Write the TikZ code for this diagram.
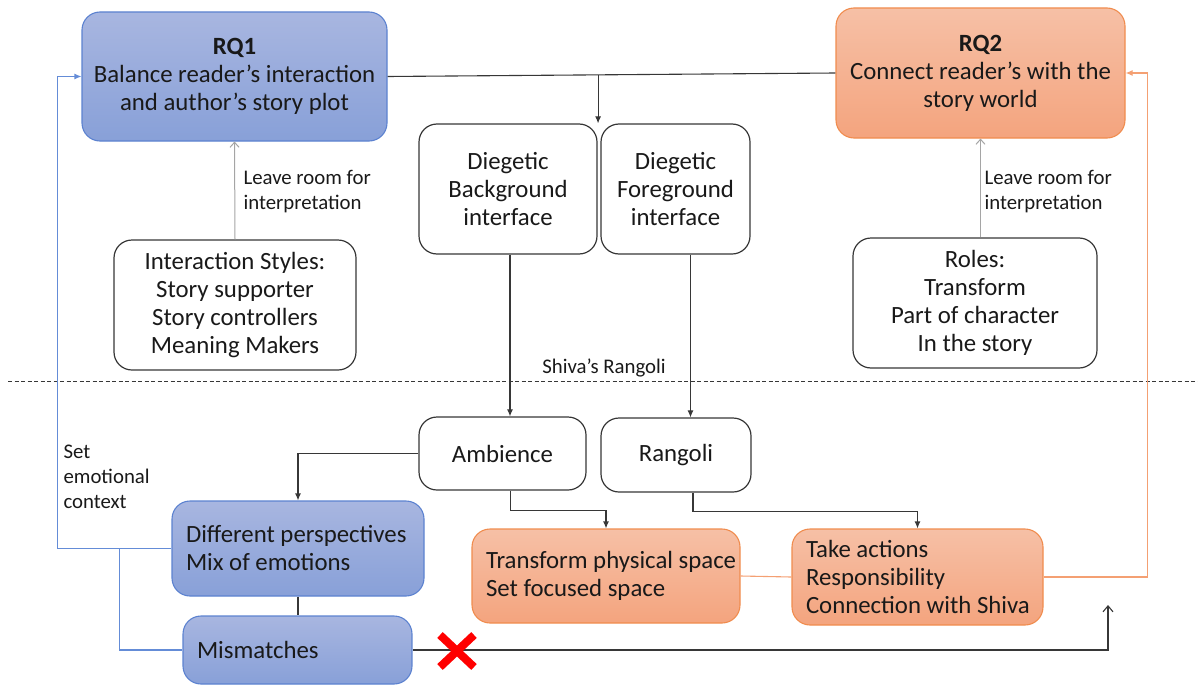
\documentclass[tikz,border=0pt]{standalone}
\usepackage{fontspec}
\setmainfont{Carlito}
\usetikzlibrary{arrows.meta,calc}

\definecolor{bluetop}{RGB}{168,182,224}
\definecolor{bluebot}{RGB}{136,160,216}
\definecolor{blueedge}{RGB}{92,130,208}
\definecolor{bluewire}{RGB}{100,140,215}
\definecolor{orangetop}{RGB}{246,192,166}
\definecolor{orangebot}{RGB}{244,164,126}
\definecolor{orangeedge}{RGB}{240,140,78}
\definecolor{orangewire}{RGB}{244,160,115}
\definecolor{wire}{RGB}{55,55,55}
\definecolor{greywire}{RGB}{165,165,165}
\definecolor{ink}{RGB}{25,25,25}

\begin{document}
\begin{tikzpicture}[x=1pt,y=-1pt,
  txt/.style={font=\fontsize{24.8}{28}\selectfont, text=ink},
  small/.style={font=\fontsize{20.8}{25}\selectfont, text=ink},
  plainbox/.style={txt, draw=wire, line width=1.2pt, fill=white, rounded corners=18pt, align=center, inner sep=0pt},
  bluebox/.style={txt, draw=blueedge, line width=1.1pt, top color=bluetop, bottom color=bluebot, rounded corners=18pt, inner sep=0pt},
  orangebox/.style={txt, draw=orangeedge, line width=1.1pt, top color=orangetop, bottom color=orangebot, rounded corners=18pt, inner sep=0pt},
  leftbox/.style={align=flush left, inner ysep=0pt},
  line/.style={draw=wire, line width=1.1pt},
  arr/.style={line, -{Latex[length=7pt,width=6pt]}},
  garr/.style={draw=greywire, line width=1pt, -{Straight Barb[length=5pt,width=9pt]}},
  openarr/.style={line, -{Straight Barb[length=6pt,width=10pt]}},
  bline/.style={draw=bluewire, line width=1.1pt},
  barr/.style={bline, -{Latex[length=7pt,width=6pt]}},
  oline/.style={draw=orangewire, line width=1.1pt},
  oarr/.style={oline, -{Latex[length=7pt,width=6pt]}}
]
\useasboundingbox (0,0) rectangle (1198,685);

% research questions
\node[bluebox, align=center, minimum width=305pt, minimum height=129pt] (rq1) at (234.5,76.5)
  {\textbf{RQ1}\\Balance reader’s interaction\\and author’s story plot};
\node[orangebox, align=center, minimum width=289pt, minimum height=130pt] (rq2) at (980.5,73)
  {\textbf{RQ2}\\Connect reader’s with the\\story world};

% diegetic interfaces
\node[plainbox, minimum width=178pt, minimum height=130pt] (dbg) at (508,189)
  {Diegetic\\Background\\interface};
\node[plainbox, minimum width=149pt, minimum height=130pt] (dfg) at (675.5,189)
  {Diegetic\\Foreground\\interface};

% interaction styles and roles
\node[plainbox, minimum width=242pt, minimum height=130pt] (ist) at (235,305)
  {Interaction Styles:\\Story supporter\\Story controllers\\Meaning Makers};
\node[plainbox, minimum width=244pt, minimum height=130pt] (roles) at (975,303)
  {Roles:\\Transform\\Part of character\\In the story};

% divider
\draw[wire, line width=1pt, dash pattern=on 4pt off 2.5pt] (8,381) -- (1198,381);
\node[small] (shiva) at (604,368) {Shiva’s Rangoli};

% lower level
\node[plainbox, minimum width=167pt, minimum height=73pt] (amb) at (502.5,453.5) {Ambience};
\node[plainbox, minimum width=150pt, minimum height=74pt] (rang) at (676,455) {Rangoli};

\node[bluebox, leftbox, inner xsep=14pt, text width=224pt, minimum height=95pt] (diff) at (298,548.5)
  {\mbox{Different perspectives}\\Mix of emotions};
\node[bluebox, leftbox, inner xsep=14pt, text width=201pt, minimum height=68pt] (mis) at (297.5,650)
  {Mismatches};
\node[orangebox, leftbox, inner xsep=14pt, text width=240pt, minimum height=94pt] (trans) at (606,576)
  {\mbox{Transform physical space}\\Set focused space};
\node[orangebox, leftbox, inner xsep=14pt, text width=223pt, minimum height=96pt] (take) at (917.5,577)
  {Take actions\\Responsibility\\\mbox{Connection with Shiva}};

% connectors, upper part
\draw[line] (rq1.east) -- coordinate[pos=0.47] (split) (rq2.west);
\draw[arr] (split) -- (split |- dbg.north);
\draw[garr] (ist.north) -- (rq1.south);
\draw[garr] (rq2.south |- roles.north) -- (rq2.south);
\node[small, align=left, anchor=west] (lab1) at (240,192) {Leave room for\\interpretation};
\node[small, align=left, anchor=west] (lab2) at (981,192) {Leave room for\\interpretation};

\draw[arr] ([xshift=2pt]dbg.south) -- ([xshift=2pt]dbg.south |- amb.north);
\draw[arr] ([xshift=15pt]dfg.south) -- ([xshift=15pt]dfg.south |- rang.north);

% connectors, lower part
\draw[arr] (amb.west) -| (diff.north);
\draw[arr] ([xshift=8pt]amb.south) -- ++(0,20) -| (trans.north);
\draw[arr] ([xshift=17pt]rang.south) -- ++(0,19) -| (take.north);
\draw[oline] (trans.east) -- (take.west);
\draw[oarr] (take.east) -| ([xshift=22pt]rq2.east) -- (rq2.east);

\draw[barr] (diff.west) -- ++(-114,0) |- (rq1.west);
\draw[bline] ([xshift=-52pt]diff.west) |- (mis.west);
\node[small, align=left, anchor=west] (lab3) at (60,477) {Set\\emotional\\context};
\draw[line] (diff.south) -- (diff.south |- mis.north);

\coordinate (back) at (1108,605);
\draw[openarr] (mis.east) -| (back);

% blocked path mark
\coordinate (cross) at (457,651);
\draw[red, line width=8pt] ($(cross)+(-17,-16)$) -- ($(cross)+(17,16)$);
\draw[red, line width=8pt] ($(cross)+(-17,16)$) -- ($(cross)+(17,-16)$);
\end{tikzpicture}
\end{document}
